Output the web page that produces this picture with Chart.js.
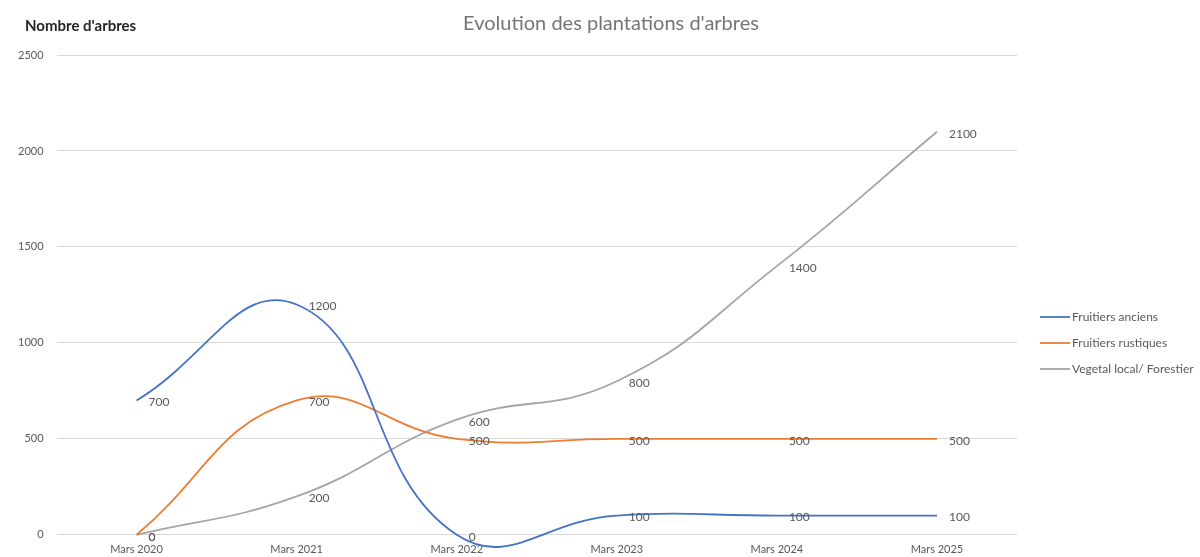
<!DOCTYPE html>
<html>
<head>
<meta charset="utf-8">
<script src="https://cdn.jsdelivr.net/npm/chart.js@4"></script>
<style>
  html, body { margin: 0; padding: 0; background: #fff; }
  #wrap { width: 1200px; height: 557px; }
</style>
</head>
<body>
<div id="wrap"><canvas id="chart"></canvas></div>
<script>
const labels = ['Mars 2020', 'Mars 2021', 'Mars 2022', 'Mars 2023', 'Mars 2024', 'Mars 2025'];
const fruitiersAnciens = [700, 1200, 0, 100, 100, 100];
const fruitiersRustiques = [0, 700, 500, 500, 500, 500];
const vegetalLocal = [0, 200, 600, 800, 1400, 2100];
const yTicks = [0, 500, 1000, 1500, 2000, 2500];

const FONT = 'Lato, "Open Sans", sans-serif';

// labels to the right of each point, like the Excel data labels
const pointLabels = {
  id: 'pointLabels',
  afterDatasetsDraw(chart) {
    const ctx = chart.ctx;
    ctx.save();
    ctx.font = '12px ' + FONT;
    ctx.fillStyle = '#595959';
    ctx.textAlign = 'left';
    ctx.textBaseline = 'middle';
    chart.data.datasets.forEach((ds, i) => {
      chart.getDatasetMeta(i).data.forEach((pt, j) => {
        ctx.fillText(String(ds.data[j]), pt.x + 12, pt.y + 2);
      });
    });
    ctx.restore();
  }
};

// title, horizontal y axis title and legend drawn by hand (Excel layout)
const decorations = {
  id: 'decorations',
  afterDraw(chart) {
    const ctx = chart.ctx;
    ctx.save();
    ctx.textBaseline = 'middle';

    ctx.font = '20px ' + FONT;
    ctx.fillStyle = '#757575';
    ctx.textAlign = 'center';
    ctx.fillText("Evolution des plantations d'arbres", 611, 24);

    ctx.font = 'bold 15px ' + FONT;
    ctx.fillStyle = '#262626';
    ctx.textAlign = 'left';
    ctx.fillText("Nombre d'arbres", 25, 26);

    ctx.font = '12px ' + FONT;
    chart.data.datasets.forEach((ds, i) => {
      const y = 317 + i * 26;
      ctx.strokeStyle = ds.borderColor;
      ctx.lineWidth = 1.8;
      ctx.beginPath();
      ctx.moveTo(1040, y);
      ctx.lineTo(1070, y);
      ctx.stroke();
      ctx.fillStyle = '#595959';
      ctx.fillText(ds.label, 1072, y);
    });
    ctx.restore();
  }
};

new Chart(document.getElementById('chart'), {
  type: 'line',
  data: {
    labels: labels,
    datasets: [
      { label: 'Fruitiers anciens', data: fruitiersAnciens, borderColor: '#4472C4', backgroundColor: '#4472C4' },
      { label: 'Fruitiers rustiques', data: fruitiersRustiques, borderColor: '#ED7D31', backgroundColor: '#ED7D31' },
      { label: 'Vegetal local/ Forestier', data: vegetalLocal, borderColor: '#A5A5A5', backgroundColor: '#A5A5A5' }
    ]
  },
  options: {
    responsive: true,
    maintainAspectRatio: false,
    animation: false,
    layout: { padding: { left: 5, right: 183, top: 55, bottom: -7 } },
    elements: {
      line: { tension: 0.45, borderWidth: 1.8, capBezierPoints: false },
      point: { radius: 0 }
    },
    datasets: { line: { clip: false } },
    plugins: {
      title: { display: false },
      legend: { display: false },
      tooltip: { enabled: false }
    },
    scales: {
      x: {
        offset: true,
        grid: { display: false, drawTicks: false },
        border: { display: false },
        ticks: { color: '#595959', font: { family: FONT, size: 11 }, maxRotation: 0, padding: 8 }
      },
      y: {
        min: 0,
        max: 2500,
        afterBuildTicks: axis => { axis.ticks = yTicks.map(v => ({ value: v })); },
        grid: { color: '#D9D9D9', drawTicks: false },
        border: { display: false },
        ticks: {
          color: '#595959',
          font: { family: FONT, size: 11 },
          padding: 13,
          callback: v => String(v)
        }
      }
    }
  },
  plugins: [pointLabels, decorations]
});
</script>
</body>
</html>
